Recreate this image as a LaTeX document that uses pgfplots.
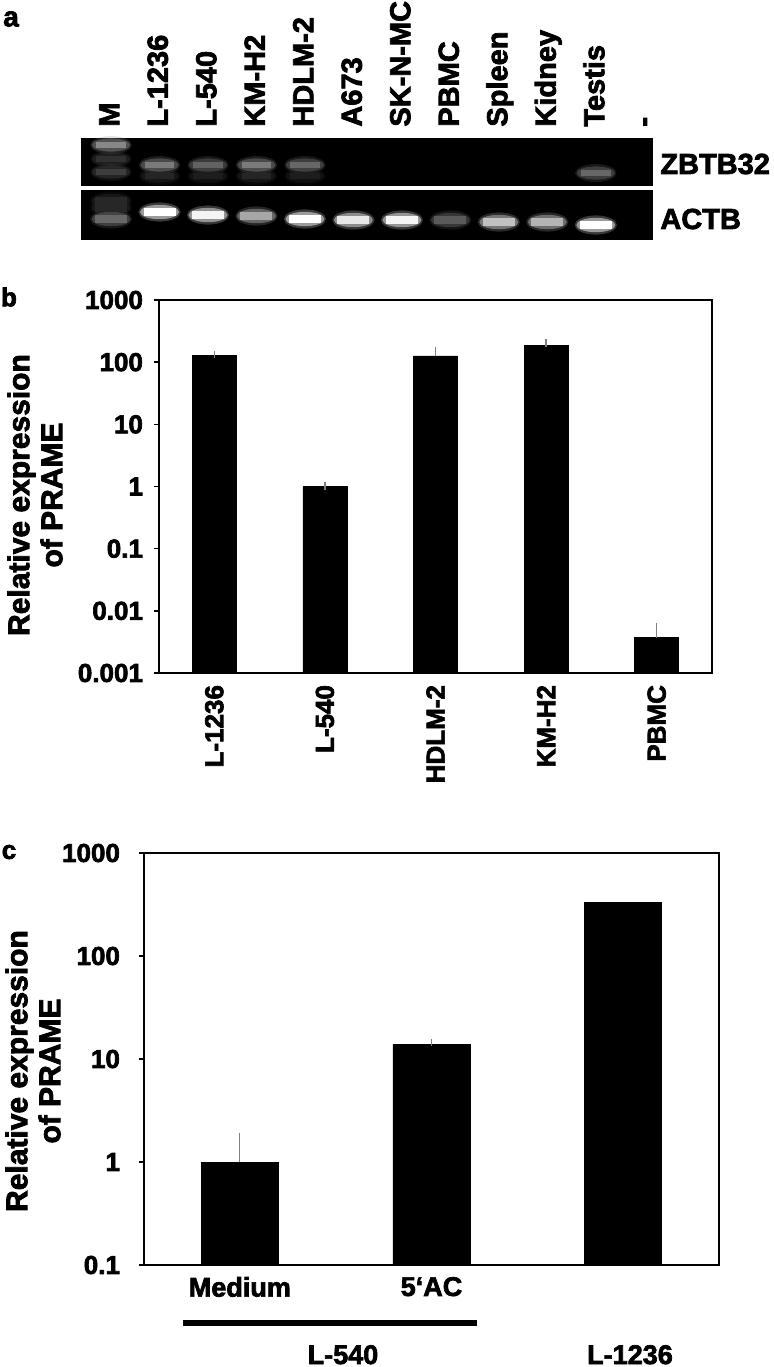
\documentclass[border=0pt]{standalone}
\usepackage{fontspec}
\setmainfont{Liberation Sans}[BoldFeatures={FakeBold=2.5}]
\usepackage{pgfplots}
\pgfplotsset{compat=1.18}

% 1 px of the reference = 0.5pt
\pgfplotsset{
  gel/.style={scale only axis, width=286pt, xmin=-0.62, xmax=11.18, y dir=reverse,
    axis background/.style={fill=black}, axis line style={draw=none},
    xtick=\empty, ytick=\empty, colormap/blackwhite,
    point meta min=0, point meta max=1, clip=false},
  band/.style={scatter, only marks, mark=*, point meta=explicit,
    scatter/use mapped color={draw opacity=0, fill=mapped color}},
}
\newcommand{\lab}{\fontsize{14.5}{17}\selectfont\bfseries}

\pgfplotstableread{
x y v
0 145 0.55
0 159 0.2
0 172 0.25
1 176 0.15
2 176 0.12
3 176 0.15
4 176 0.12
1 165 0.5
2 165 0.4
3 165 0.5
4 165 0.42
10 173 0.42
}\zbtb
\pgfplotstableread{
x y v
0 201 0.15
0 208 0.15
0 219 0.4
1 212 1.0
2 215 0.95
3 216 0.65
4 219 1.0
5 220 0.9
6 220 0.95
7 220 0.35
8 222 0.75
9 222 0.7
10 225 1.0
}\actb

\begin{document}
\begin{tikzpicture}
\useasboundingbox (0,0) rectangle (387pt,-683.5pt);

% ---- panel a: gel ----
\begin{axis}[gel, at={(40.5pt,-93pt)}, anchor=south west, height=24pt, ymin=138, ymax=186]
  \addplot[band, mark size=4.5pt, mark options={xscale=2.3, fill opacity=0.22}] table[meta=v] {\zbtb};
  \addplot[band, mark size=3.3pt, mark options={xscale=2.9, fill opacity=0.45}] table[meta=v] {\zbtb};
  \addplot[band, mark=square*, mark size=1.6pt, mark options={xscale=4.6, fill opacity=0.9}] table[meta=v] {\zbtb};
\end{axis}
\begin{axis}[gel, at={(40.5pt,-120pt)}, anchor=south west, height=25pt, ymin=190, ymax=240]
  \addplot[band, mark size=4.8pt, mark options={xscale=2.2, fill opacity=0.22}] table[meta=v] {\actb};
  \addplot[band, mark size=3.6pt, mark options={xscale=2.7, fill opacity=0.5}] table[meta=v] {\actb};
  \addplot[band, mark=square*, mark size=2pt, mark options={xscale=4}] table[meta=v] {\actb};
\end{axis}

\begin{scope}[x=0.5pt, y=-0.5pt]
  \node[font=\fontsize{14}{16}\selectfont\bfseries] at (11,19) {a};
  \foreach \t [count=\i from 0] in {M,L-1236,L-540,KM-H2,HDLM-2,A673,SK-N-MC,PBMC,Spleen,Kidney,Testis,-}
    \node[rotate=90, anchor=mid west, inner sep=0pt, font=\lab] at ({111+48.5*\i+3},127) {\t};
  \node[anchor=west, inner sep=0pt, font=\lab] at (660,164) {ZBTB32};
  \node[anchor=west, inner sep=0pt, font=\lab] at (660,219) {ACTB};

  \node[font=\fontsize{13}{15}\selectfont\bfseries] at (9,297) {b};
  \node[rotate=90, align=center, font=\fontsize{15}{16.5}\selectfont\bfseries] at (35,495)
    {Relative expression\\of PRAME};

  \node[font=\fontsize{13}{15}\selectfont\bfseries] at (9,852) {c};
  \node[rotate=90, align=center, font=\fontsize{15}{16.5}\selectfont\bfseries] at (33,1071)
    {Relative expression\\of PRAME};
  \draw[line width=3pt] (183,1323) -- (477,1323);
  \node[anchor=base, inner sep=0pt, font=\fontsize{13.5}{15}\selectfont\bfseries] at (343,1364) {L-540};
  \node[anchor=base, inner sep=0pt, font=\fontsize{13.5}{15}\selectfont\bfseries] at (630,1364) {L-1236};
\end{scope}

% ---- panel b ----
\begin{axis}[scale only axis, at={(79.5pt,-336.5pt)}, anchor=south west,
  width=276.5pt, height=186.5pt,
  ymode=log, log origin y=infty, yminorticks=false,
  axis line style={line width=1pt}, tick style={black, line width=0.8pt},
  tick align=outside, major tick length=2.5pt,
  xtick pos=bottom, ytick pos=left,
  tick label style={font=\fontsize{13}{15}\selectfont\bfseries},
  yticklabel style={xshift=-2pt},
  clip=false,
  xmin=-0.5, xmax=4.5, ymin=1e-3, ymax=1e3,
  ytick={0.001,0.01,0.1,1,10,100,1000},
  yticklabels={0.001,0.01,0.1,1,10,100,1000},
  xtick={0,1,2,3,4}, xticklabels={L-1236,L-540,HDLM-2,KM-H2,PBMC},
  extra x ticks={-0.5,0.5,1.5,2.5,3.5,4.5}, extra x tick labels={},
  extra x tick style={draw=black, major tick length=3pt},
  xtick style={draw=none},
  xticklabel style={rotate=90, anchor=east}]
  \addplot[ybar, bar width=22pt, fill=black, draw=black,
    error bars/.cd, y dir=plus, y explicit,
    error bar style={gray, line width=0.6pt}, error mark=-,
    error mark options={gray, mark size=1.8pt, line width=0.6pt}]
    coordinates {
    (0,128) +- (0,3)
    (1,1.0) +- (0,0.02)
    (2,126) +- (0,27)
    (3,186) +- (0,17)
    (4,0.0037) +- (0,0.0019)
  };
\end{axis}

% ---- panel c ----
\begin{axis}[scale only axis, at={(72pt,-632.5pt)}, anchor=south west,
  width=287.5pt, height=206pt,
  ymode=log, log origin y=infty, yminorticks=false,
  axis line style={line width=1pt}, tick style={black, line width=0.8pt},
  tick align=outside, major tick length=2.5pt,
  xtick pos=bottom, ytick pos=left,
  tick label style={font=\fontsize{13}{15}\selectfont\bfseries},
  yticklabel style={xshift=-6pt},
  clip=false,
  xmin=-0.5, xmax=2.5, ymin=0.1, ymax=1000,
  ytick={0.1,1,10,100,1000},
  yticklabels={0.1,1,10,100,1000},
  xtick={0,1}, xticklabels={Medium,5‘AC},
  extra x ticks={-0.5,0.5,1.5,2.5}, extra x tick labels={},
  extra x tick style={draw=black, major tick length=3pt},
  xtick style={draw=none},
  xticklabel style={font=\fontsize{13.5}{15}\selectfont\bfseries}]
  \addplot[ybar, bar width=38.5pt, fill=black, draw=black,
    error bars/.cd, y dir=plus, y explicit,
    error bar style={gray, line width=0.6pt}, error mark=-,
    error mark options={gray, mark size=1.8pt, line width=0.6pt}]
    coordinates {
    (0,1.0) +- (0,0.75)
    (1,13.9) +- (0,0.6)
  };
  \addplot[ybar, bar width=38.5pt, fill=black, draw=black] coordinates {(2,335)};
\end{axis}
\end{tikzpicture}
\end{document}
